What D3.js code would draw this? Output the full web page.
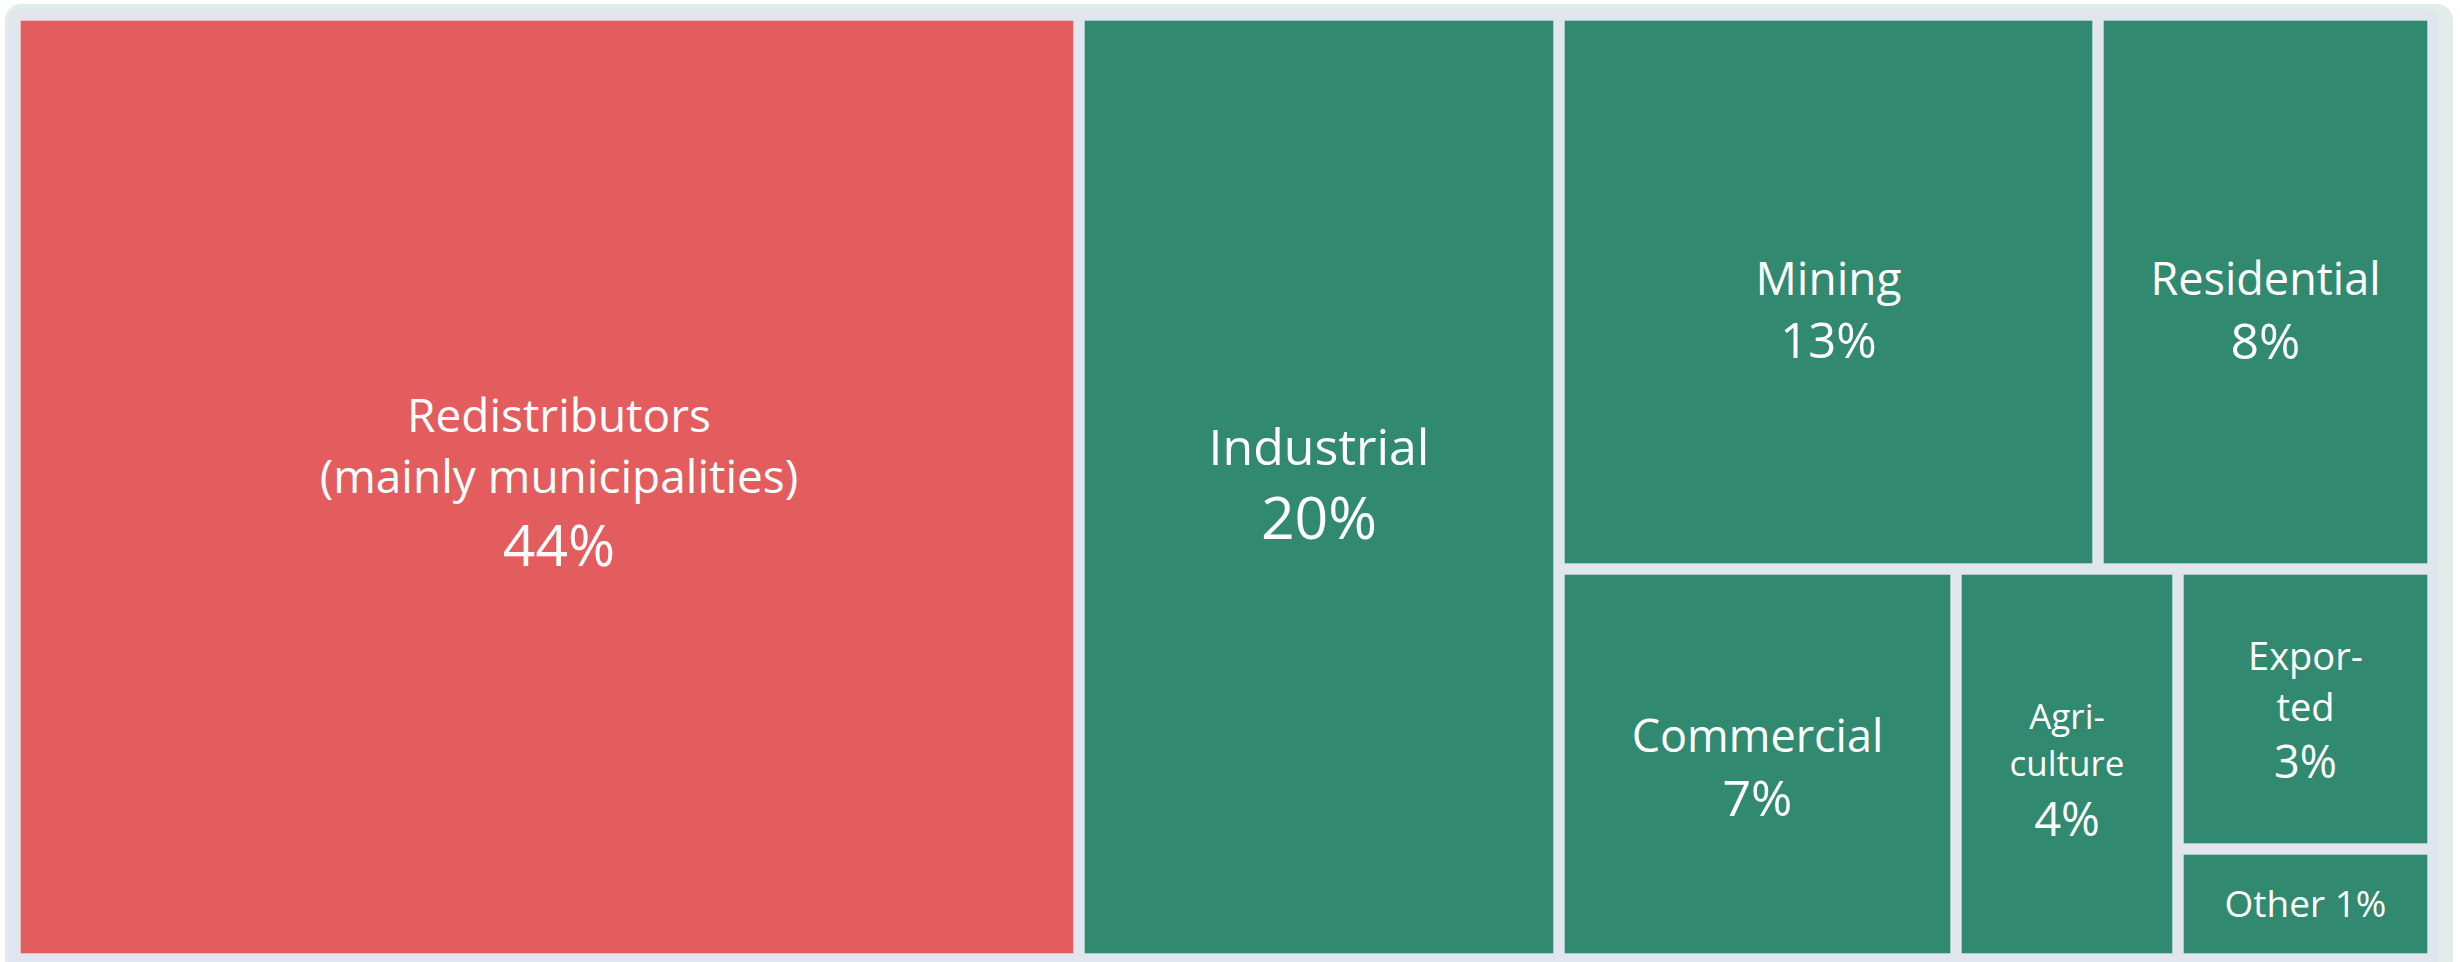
<!DOCTYPE html>
<html>
<head>
<meta charset="utf-8">
<script src="https://cdn.jsdelivr.net/npm/d3@7"></script>
<style>
  html, body { margin: 0; padding: 0; background: #ffffff; }
  svg { display: block; }
  text { font-family: "Open Sans", "Noto Sans", sans-serif; fill: #ffffff; }
</style>
</head>
<body>
<svg id="chart" width="2460" height="962"></svg>
<script>
// ---- data ----
const categories = ["Redistributors (mainly municipalities)", "Industrial", "Mining", "Residential", "Commercial", "Agriculture", "Exported", "Other"];
const values = [44.0, 19.87, 13.07, 8.14, 6.79, 3.79, 3.13, 1.23];
const percentLabels = ["44%", "20%", "13%", "8%", "7%", "4%", "3%", "1%"];
const nameLines = [
  ["Redistributors", "(mainly municipalities)"],
  ["Industrial"],
  ["Mining"],
  ["Residential"],
  ["Commercial"],
  ["Agri-", "culture"],
  ["Expor-", "ted"],
  ["Other"]
];
const highlighted = ["Redistributors (mainly municipalities)"];

// ---- styles ----
const colorHighlight = "#e35d5e", colorOther = "#318a70";
const gapColor = "#e1e5ee", frameColor = "#e0ede8";
// label font sizes [name, value], small offsets, and whether the value sits on the name line
const labelStyle = {
  "Redistributors (mainly municipalities)": { name: 46, value: 57, dx: 12, dy: -5 },
  "Industrial": { name: 50, value: 59, dx: 0, dy: -3 },
  "Mining": { name: 46, value: 49, dx: 0, dy: 18 },
  "Residential": { name: 45, value: 50, dx: 0, dy: 19 },
  "Commercial": { name: 45, value: 50, dx: 0, dy: 4 },
  "Agriculture": { name: 35, value: 47, dx: 0, dy: 6 },
  "Exported": { name: 38, value: 45, dx: 0, dy: 1 },
  "Other": { name: 37, value: 37, dx: 0, dy: 0, inline: true }
};

const svg = d3.select("#chart");

// frame
svg.append("rect").attr("x", 5).attr("y", 4).attr("width", 2448).attr("height", 972)
  .attr("rx", 16).attr("fill", frameColor);
svg.append("rect").attr("x", 8).attr("y", 9).attr("width", 2431).attr("height", 970)
  .attr("rx", 10).attr("fill", gapColor);

const rows = categories.map((c, i) => ({ name: c, value: values[i], pct: percentLabels[i], lines: nameLines[i] }));
const root = d3.hierarchy({ children: rows }).sum(d => d.value || 0);

d3.treemap()
  .tile(d3.treemapSquarify.ratio(1))
  .size([2408, 934])
  .paddingInner(10)
  .round(true)(root);

const g = svg.append("g").attr("transform", "translate(20,20)");
const color = d => highlighted.includes(d.data.name) ? colorHighlight : colorOther;

const cell = g.selectAll("g.cell").data(root.leaves()).join("g").attr("class", "cell");

cell.append("rect")
  .attr("x", d => d.x0 + 0.5).attr("y", d => d.y0 + 0.5)
  .attr("width", d => d.x1 - d.x0 - 1).attr("height", d => d.y1 - d.y0 - 1)
  .attr("fill", color)
  .attr("stroke", "rgba(255,255,255,0.28)").attr("stroke-width", 1);

cell.each(function (d) {
  const st = labelStyle[d.data.name];
  let lines = d.data.lines.map(t => ({ text: t, size: st.name, kind: "name" }));
  if (st.inline) {
    lines[lines.length - 1].text += " " + d.data.pct;
  } else {
    lines.push({ text: d.data.pct, size: st.value, kind: "value" });
  }
  let b = 0;
  lines.forEach((l, i) => {
    if (i > 0) b += (l.kind === "value" ? 1.27 : 1.34) * l.size;
    l.base = b;
  });
  const top = -0.72 * lines[0].size;
  const bottom = b;
  const cy = (d.y0 + d.y1) / 2 + st.dy;
  const shift = cy - (top + bottom) / 2;
  const cx = (d.x0 + d.x1) / 2 + st.dx;
  const t = d3.select(this).append("text").attr("text-anchor", "middle");
  lines.forEach(l => {
    t.append("tspan").attr("x", cx).attr("y", l.base + shift)
      .style("font-size", l.size + "px").text(l.text);
  });
});
</script>
</body>
</html>
